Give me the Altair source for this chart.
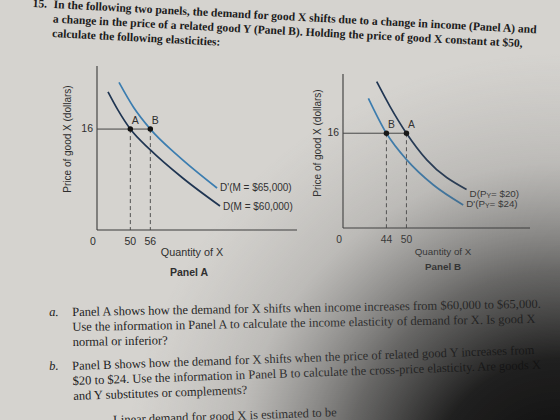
import altair as alt
import pandas as pd

# ---------------- data ----------------
# Panel A (income change)
a_D_q = [43.3, 46.3, 50, 56, 65.8, 76.9]
a_D_p = [21.9, 19.0, 16, 12.7, 8.2, 3.8]
a_D2_q = [46.6, 50.9, 56, 64, 76]
a_D2_p = [23.4, 19.5, 16, 11.9, 6.65]
a_pt_q = [50, 56]
a_pt_lab = ["A", "B"]
a_price = 16
a_ticks = [50, 56]
a_x_origin, a_x_end, a_y_top = 40, 100, 26
a_dark_label = ["D(M = $60,000)"]
a_blue_label = ["D'(M = $65,000)"]

# Panel B (price of related good change)
b_D_q = [41.1, 45.1, 50, 56.1, 68.0]
b_D_p = [24.7, 20.5, 16, 11.5, 6.5]
b_D2_q = [38.6, 44, 50.1, 58.0, 67.0]
b_D2_p = [21.9, 16, 11.5, 7.3, 3.9]
b_pt_q = [44, 50]
b_pt_lab = ["B", "A"]
b_price = 16
b_ticks = [44, 50]
b_x_origin, b_x_end, b_y_top = 31, 87, 26
b_dark_label = ["D(P", "Y", " = $20)"]
b_blue_label = ["D'(P", "Y", " = $24)"]

top_number = "15."
top_lines = [
    "In the following two panels, the demand for good X shifts due to a change in income (Panel A) and",
    "a change in the price of a related good Y (Panel B). Holding the price of good X constant at $50,",
    "calculate the following elasticities:",
]
qa_lines = [
    "Panel A shows how the demand for X shifts when income increases from $60,000 to $65,000.",
    "Use the information in Panel A to calculate the income elasticity of demand for X. Is good X",
    "normal or inferior?",
]
qb_lines = [
    "Panel B shows how the demand for X shifts when the price of related good Y increases from",
    "$20 to $24. Use the information in Panel B to calculate the cross-price elasticity. Are goods X",
    "and Y substitutes or complements?",
]
qc_line = "Linear demand for good X is estimated to be"

# ---------------- style ----------------
BG = "#d5d3cf"
DARK = "#1f3552"
BLUE = "#3b7db0"
AXIS = "#3a3a3a"
TXT = "#1c1c1c"
GTXT = "#2e2e2e"
SERIF = "Liberation Serif"
SANS = "Liberation Sans"

one = pd.DataFrame({"k": [0]})


def txt(lines, x, y, size, angle=0, align="left", baseline="top", font=SERIF,
        style="normal", weight="normal", color=TXT, lh=None):
    return alt.Chart(one).mark_text(
        align=align, baseline=baseline, font=font, fontSize=size,
        fontStyle=style, fontWeight=weight, color=color, angle=angle,
        lineHeight=lh if lh else size * 1.25,
    ).encode(x=alt.value(x), y=alt.value(y), text=alt.value(lines))


def panel(dq, dp, bq, bp, pq, plab, price, ticks, x0, x1, ytop, xr, yr,
          dark_lab, blue_lab, dark_dy, blue_dy, fs):
    xs = alt.Scale(domain=[x0, x1], range=xr, nice=False, zero=False)
    ys = alt.Scale(domain=[0, ytop], range=yr, nice=False, zero=False)

    def X(f):
        return alt.X(f, type="quantitative", scale=xs, axis=None)

    def Y(f):
        return alt.Y(f, type="quantitative", scale=ys, axis=None)

    axes = alt.Chart(pd.DataFrame({"q": [x0, x0], "q2": [x0, x1], "p": [0, 0], "p2": [ytop, 0]})).mark_rule(
        color=AXIS, strokeWidth=1.1).encode(x=X("q"), x2="q2", y=Y("p"), y2="p2")
    guide = alt.Chart(pd.DataFrame({"q": [x0], "q2": [max(pq)], "p": [price]})).mark_rule(
        color="#444", strokeWidth=1).encode(x=X("q"), x2="q2", y=Y("p"))
    dashed = alt.Chart(pd.DataFrame({"q": pq, "p": [price] * len(pq), "p2": [0] * len(pq)})).mark_rule(
        color="#444", strokeWidth=0.9, strokeDash=[4, 3]).encode(x=X("q"), y=Y("p"), y2="p2")
    dark = alt.Chart(pd.DataFrame({"q": dq, "p": dp})).mark_line(
        color=DARK, strokeWidth=1.7, interpolate="monotone").encode(x=X("q"), y=Y("p"))
    blue = alt.Chart(pd.DataFrame({"q": bq, "p": bp})).mark_line(
        color=BLUE, strokeWidth=1.7, interpolate="monotone").encode(x=X("q"), y=Y("p"))
    pts_df = pd.DataFrame({"q": pq, "p": [price] * len(pq), "lab": plab})
    pts = alt.Chart(pts_df).mark_circle(size=30, color="#111", opacity=1).encode(x=X("q"), y=Y("p"))
    pts_lab = alt.Chart(pts_df).mark_text(font=SANS, fontSize=fs, color=GTXT, dx=5, dy=-8).encode(
        x=X("q"), y=Y("p"), text="lab:N")
    zero = alt.Chart(pd.DataFrame({"q": [x0], "p": [0], "lab": ["0"]})).mark_text(
        font=SANS, fontSize=fs, color=GTXT, dx=-4, dy=12).encode(x=X("q"), y=Y("p"), text="lab:N")
    tk = alt.Chart(pd.DataFrame({"q": ticks, "p": [0] * len(ticks), "lab": [str(t) for t in ticks]})).mark_text(
        font=SANS, fontSize=fs, color=GTXT, dy=12).encode(x=X("q"), y=Y("p"), text="lab:N")
    plab16 = alt.Chart(pd.DataFrame({"q": [x0], "p": [price], "lab": [str(price)]})).mark_text(
        font=SANS, fontSize=fs, color=GTXT, align="right", dx=-4).encode(x=X("q"), y=Y("p"), text="lab:N")

    layers = [axes, guide, dashed, dark, blue, pts, pts_lab, zero, tk, plab16]

    def curve_label(q, p, parts, dy):
        fsz = fs - 0.5
        if len(parts) == 1:
            offs = [(3, dy, fsz)]
        else:
            w0 = (0.722 + 0.333 + 0.667 + (0.191 if "'" in parts[0] else 0)) * fsz
            offs = [(3, dy, fsz), (3 + w0, dy + 2.5, fsz * 0.7), (3 + w0 + 0.667 * fsz * 0.7, dy, fsz)]
        out = []
        for part, (ddx, ddy, sz) in zip(parts, offs):
            out.append(alt.Chart(pd.DataFrame({"q": [q], "p": [p], "lab": [part]})).mark_text(
                font=SANS, fontSize=sz, color=GTXT, align="left", baseline="middle",
                dx=ddx, dy=ddy).encode(x=X("q"), y=Y("p"), text="lab:N"))
        return out

    layers += curve_label(dq[-1], dp[-1], dark_lab, dark_dy)
    layers += curve_label(bq[-1], bp[-1], blue_lab, blue_dy)
    return alt.layer(*layers)


panelA = panel(a_D_q, a_D_p, a_D2_q, a_D2_p, a_pt_q, a_pt_lab, a_price, a_ticks,
               a_x_origin, a_x_end, a_y_top, [97, 297], [230, 66],
               a_dark_label, a_blue_label, 1, 0, 10.5)
panelB = panel(b_D_q, b_D_p, b_D2_q, b_D2_p, b_pt_q, b_pt_lab, b_price, b_ticks,
               b_x_origin, b_x_end, b_y_top, [343, 530], [228, 74],
               b_dark_label, b_blue_label, 4, -1, 10.3)

titles = [
    txt("Quantity of X", 192, 253, 10.8, align="center", baseline="middle", font=SANS, color=GTXT),
    txt("Panel A", 189, 273, 10.5, align="center", baseline="middle", font=SANS, weight="bold", color=GTXT),
    txt("Price of good X (dollars)", 68, 139, 10, angle=270, align="center", baseline="middle", font=SANS, color=GTXT),
    txt("Quantity of X", 443, 252, 9.8, align="center", baseline="middle", font=SANS, color=GTXT),
    txt("Panel B", 443, 267, 9.8, align="center", baseline="middle", font=SANS, weight="bold", color=GTXT),
    txt("Price of good X (dollars)", 318, 143, 10, angle=270, align="center", baseline="middle", font=SANS, color=GTXT),
]

paragraphs = [
    txt(top_number, 33, -2, 11.6, angle=3, weight="bold"),
    txt(top_lines, 54, -1, 11.6, angle=3, lh=14.5, weight="bold"),
    txt("a.", 49, 306, 12.5, angle=359, style="italic"),
    txt(qa_lines, 72, 306, 12.5, angle=359, lh=15),
    txt("b.", 49, 360, 12.5, angle=358, style="italic"),
    txt(qb_lines, 72, 360, 12.5, angle=358, lh=15),
    txt(qc_line, 113, 414, 12.5, angle=358),
]

shadow = alt.Chart(one).mark_rect(
    fill={
        "gradient": "radial",
        "x1": 1.0, "y1": 1.0, "r1": 0.0,
        "x2": 1.0, "y2": 1.0, "r2": 0.78,
        "stops": [
            {"offset": 0.0, "color": "rgba(8,8,8,1)"},
            {"offset": 0.3, "color": "rgba(18,18,18,0.93)"},
            {"offset": 0.5, "color": "rgba(45,45,45,0.65)"},
            {"offset": 0.75, "color": "rgba(90,90,90,0.2)"},
            {"offset": 1.0, "color": "rgba(120,120,120,0)"},
        ],
    }
).encode(x=alt.value(0), x2=alt.value(560), y=alt.value(0), y2=alt.value(420))

chart = alt.layer(panelA, panelB, *titles, *paragraphs, shadow).resolve_scale(
    x="independent", y="independent"
).properties(
    width=560, height=420, padding=0, autosize="none", background=BG
).configure_view(stroke=None)

chart.save("out.html", embed_options={"renderer": "svg", "actions": False})
